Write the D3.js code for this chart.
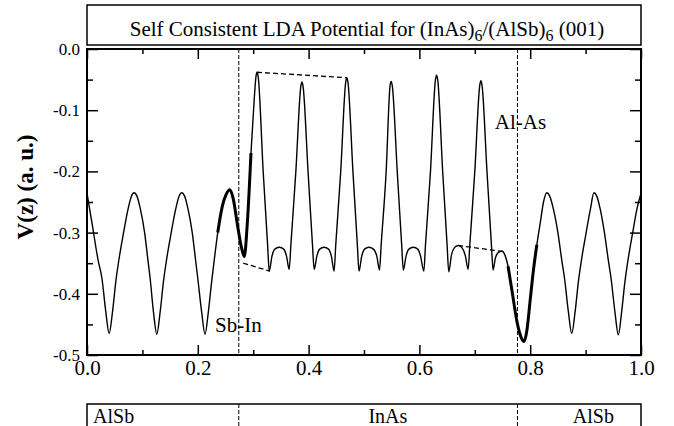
<!DOCTYPE html>
<meta charset="utf-8">
<script src="https://d3js.org/d3.v7.min.js"></script>
<style>
  body { margin: 0; background: #fff; }
  text { font-family: "Liberation Serif", "Times New Roman", serif; fill: #000; }
</style>
<div id="chart"></div>
<script>
// z (fraction of the supercell) and V(z)
var zPos = [
  0.000, 0.010, 0.020, 0.027, 0.034, 0.040, 0.046, 0.052, 0.058, 0.066, 0.074, 0.080,
  0.085, 0.090, 0.096, 0.104, 0.110, 0.114, 0.120, 0.126, 0.132, 0.138, 0.144, 0.152,
  0.160, 0.166, 0.171, 0.176, 0.182, 0.190, 0.196, 0.200, 0.207, 0.213, 0.219, 0.225,
  0.231, 0.236, 0.244, 0.251, 0.258, 0.264, 0.272, 0.279, 0.284, 0.289, 0.296, 0.302,
  0.305, 0.307, 0.309, 0.318, 0.326, 0.329, 0.334, 0.339, 0.347, 0.355, 0.360, 0.365,
  0.368, 0.377, 0.386, 0.388, 0.390, 0.399, 0.407, 0.410, 0.415, 0.420, 0.428, 0.436,
  0.441, 0.446, 0.449, 0.458, 0.467, 0.469, 0.471, 0.480, 0.488, 0.491, 0.496, 0.501,
  0.509, 0.517, 0.523, 0.528, 0.531, 0.540, 0.547, 0.549, 0.551, 0.560, 0.568, 0.571,
  0.576, 0.581, 0.589, 0.597, 0.602, 0.608, 0.611, 0.620, 0.629, 0.631, 0.633, 0.642,
  0.650, 0.653, 0.658, 0.663, 0.670, 0.677, 0.683, 0.688, 0.691, 0.700, 0.709, 0.711,
  0.713, 0.722, 0.730, 0.733, 0.737, 0.742, 0.749, 0.754, 0.760, 0.768, 0.776, 0.784,
  0.789, 0.794, 0.800, 0.806, 0.812, 0.818, 0.824, 0.830, 0.835, 0.842, 0.850, 0.857,
  0.862, 0.869, 0.875, 0.881, 0.887, 0.893, 0.901, 0.909, 0.915, 0.920, 0.926, 0.934,
  0.941, 0.946, 0.953, 0.959, 0.965, 0.971, 0.977, 0.985, 0.993, 1.000
];
var potential = [
  -0.236, -0.290, -0.345, -0.375, -0.430, -0.465, -0.430, -0.380, -0.342, -0.300, -0.262, -0.241,
  -0.235, -0.240, -0.260, -0.300, -0.345, -0.375, -0.430, -0.466, -0.430, -0.380, -0.342, -0.300,
  -0.262, -0.241, -0.235, -0.240, -0.260, -0.300, -0.345, -0.375, -0.430, -0.466, -0.430, -0.380,
  -0.335, -0.300, -0.258, -0.238, -0.230, -0.245, -0.290, -0.325, -0.339, -0.290, -0.170, -0.080,
  -0.045, -0.038, -0.045, -0.200, -0.320, -0.363, -0.338, -0.327, -0.324, -0.327, -0.338, -0.360,
  -0.320, -0.200, -0.061, -0.054, -0.061, -0.200, -0.320, -0.360, -0.338, -0.327, -0.324, -0.327,
  -0.338, -0.363, -0.320, -0.200, -0.054, -0.047, -0.054, -0.200, -0.320, -0.363, -0.338, -0.327,
  -0.324, -0.327, -0.338, -0.361, -0.320, -0.200, -0.060, -0.053, -0.060, -0.200, -0.320, -0.361,
  -0.338, -0.327, -0.324, -0.327, -0.338, -0.363, -0.320, -0.200, -0.050, -0.043, -0.050, -0.200,
  -0.320, -0.364, -0.336, -0.325, -0.321, -0.325, -0.338, -0.360, -0.320, -0.200, -0.059, -0.052,
  -0.059, -0.200, -0.320, -0.361, -0.342, -0.333, -0.330, -0.336, -0.355, -0.400, -0.445, -0.472,
  -0.478, -0.460, -0.410, -0.360, -0.320, -0.285, -0.250, -0.235, -0.240, -0.262, -0.300, -0.345,
  -0.375, -0.430, -0.465, -0.430, -0.380, -0.342, -0.300, -0.260, -0.235, -0.240, -0.260, -0.300,
  -0.345, -0.375, -0.430, -0.467, -0.430, -0.380, -0.342, -0.300, -0.260, -0.236
];

// parts of the curve drawn heavier (interface regions)
var thickRanges = [[0.236, 0.296], [0.760, 0.812]];

// dashed guide lines
var guideTop = [[0.307, -0.038], [0.469, -0.047]];
var guideLeft = [[0.282, -0.350], [0.330, -0.363]];
var guideRight = [[0.670, -0.321], [0.751, -0.331]];

var interfaces = [0.274, 0.777];
var layerNames = ["AlSb", "InAs", "AlSb"];
var layerLabelZ = [0.048, 0.543, 0.914];

var xMajor = [0, 0.2, 0.4, 0.6, 0.8, 1.0];
var xMinor = [0.1, 0.3, 0.5, 0.7, 0.9];
var yMajor = [0, -0.1, -0.2, -0.3, -0.4, -0.5];
var yMinor = [-0.05, -0.15, -0.25, -0.35, -0.45];

var W = 674, H = 426;
var plotL = 87, plotR = 641, plotT = 49, plotB = 355;

var svg = d3.select("#chart").append("svg")
  .attr("width", W).attr("height", H);

var x = d3.scaleLinear().domain([0, 1]).range([plotL, plotR]);
var y = d3.scaleLinear().domain([-0.5, 0]).range([plotB, plotT]);

var data = zPos.map(function(z, i) { return [z, potential[i]]; });

// title box
svg.append("rect")
  .attr("x", plotL).attr("y", 5).attr("width", plotR - plotL).attr("height", 40)
  .attr("fill", "none").attr("stroke", "#000").attr("stroke-width", 1.5);
var title = svg.append("text")
  .attr("x", 367).attr("y", 36)
  .attr("text-anchor", "middle").style("font-size", "21px");
title.append("tspan").text("Self Consistent LDA Potential for (InAs)");
title.append("tspan").attr("dy", 5).style("font-size", "16px").text("6");
title.append("tspan").attr("dy", -5).text("/(AlSb)");
title.append("tspan").attr("dy", 5).style("font-size", "16px").text("6");
title.append("tspan").attr("dy", -5).text(" (001)");

// interface lines
svg.selectAll(".iface").data(interfaces).join("line")
  .attr("class", "iface")
  .attr("x1", d => x(d)).attr("x2", d => x(d))
  .attr("y1", plotT).attr("y2", plotB)
  .attr("stroke", "#000").attr("stroke-width", 1).attr("stroke-dasharray", "4,2");

// curve
var line = d3.line().x(d => x(d[0])).y(d => y(d[1])).curve(d3.curveMonotoneX);
svg.append("path").datum(data)
  .attr("d", line).attr("fill", "none").attr("stroke", "#000").attr("stroke-width", 1.4);

thickRanges.forEach(function(r) {
  svg.append("path")
    .datum(data.filter(d => d[0] >= r[0] && d[0] <= r[1]))
    .attr("d", line).attr("fill", "none").attr("stroke", "#000").attr("stroke-width", 3);
});

[guideTop, guideLeft, guideRight].forEach(function(g) {
  svg.append("path").datum(g)
    .attr("d", d3.line().x(d => x(d[0])).y(d => y(d[1])))
    .attr("fill", "none").attr("stroke", "#000").attr("stroke-width", 1.3)
    .attr("stroke-dasharray", "5,3");
});

// bond labels
svg.append("text").attr("x", x(0.231)).attr("y", y(-0.4624))
  .style("font-size", "21px").text("Sb-In");
svg.append("text").attr("x", x(0.736)).attr("y", y(-0.131))
  .style("font-size", "21px").text("Al-As");

// axes
function styleAxis(size) {
  return function(g) {
    g.select(".domain").remove();
    g.selectAll(".tick line").attr("stroke", "#000").attr("stroke-width", 1.5);
    g.selectAll(".tick text").style("font-size", size + "px")
      .style("font-family", "'Liberation Serif', serif").attr("fill", "#000");
  };
}
var fmt = d => d.toFixed(1);

svg.append("g").attr("transform", `translate(0,${plotB})`)
  .call(d3.axisBottom(x).tickValues(xMajor).tickFormat(fmt).tickSize(-10).tickPadding(5))
  .call(styleAxis(21));
svg.append("g").attr("transform", `translate(0,${plotB})`)
  .call(d3.axisBottom(x).tickValues(xMinor).tickFormat("").tickSize(-5))
  .call(styleAxis(21));
svg.append("g").attr("transform", `translate(0,${plotT})`)
  .call(d3.axisTop(x).tickValues(xMajor).tickFormat("").tickSize(-10))
  .call(styleAxis(21));
svg.append("g").attr("transform", `translate(0,${plotT})`)
  .call(d3.axisTop(x).tickValues(xMinor).tickFormat("").tickSize(-5))
  .call(styleAxis(21));
svg.append("g").attr("transform", `translate(${plotL},0)`)
  .call(d3.axisLeft(y).tickValues(yMajor).tickFormat(fmt).tickSize(-11).tickPadding(7))
  .call(styleAxis(17));
svg.append("g").attr("transform", `translate(${plotL},0)`)
  .call(d3.axisLeft(y).tickValues(yMinor).tickFormat("").tickSize(-6))
  .call(styleAxis(17));
svg.append("g").attr("transform", `translate(${plotR},0)`)
  .call(d3.axisRight(y).tickValues(yMajor).tickFormat("").tickSize(-11))
  .call(styleAxis(17));
svg.append("g").attr("transform", `translate(${plotR},0)`)
  .call(d3.axisRight(y).tickValues(yMinor).tickFormat("").tickSize(-6))
  .call(styleAxis(17));

// frame
svg.append("rect")
  .attr("x", plotL).attr("y", plotT).attr("width", plotR - plotL).attr("height", plotB - plotT)
  .attr("fill", "none").attr("stroke", "#000").attr("stroke-width", 2);

// y label
svg.append("text")
  .attr("transform", "translate(33,187) rotate(-90)")
  .attr("text-anchor", "middle")
  .style("font-size", "23px").style("font-weight", "bold")
  .text("V(z) (a. u.)");

// layer strip at the bottom
var stripTop = 404;
svg.append("path")
  .attr("d", `M${plotL},${H + 2}V${stripTop}H${plotR}V${H + 2}`)
  .attr("fill", "none").attr("stroke", "#000").attr("stroke-width", 1.5);
svg.selectAll(".div").data(interfaces).join("line")
  .attr("class", "div")
  .attr("x1", d => x(d)).attr("x2", d => x(d))
  .attr("y1", stripTop).attr("y2", H)
  .attr("stroke", "#000").attr("stroke-width", 1).attr("stroke-dasharray", "4,2");
svg.selectAll(".layer").data(layerNames).join("text")
  .attr("class", "layer")
  .attr("x", (d, i) => x(layerLabelZ[i])).attr("y", 423)
  .attr("text-anchor", "middle").style("font-size", "20px")
  .text(d => d);
</script>
